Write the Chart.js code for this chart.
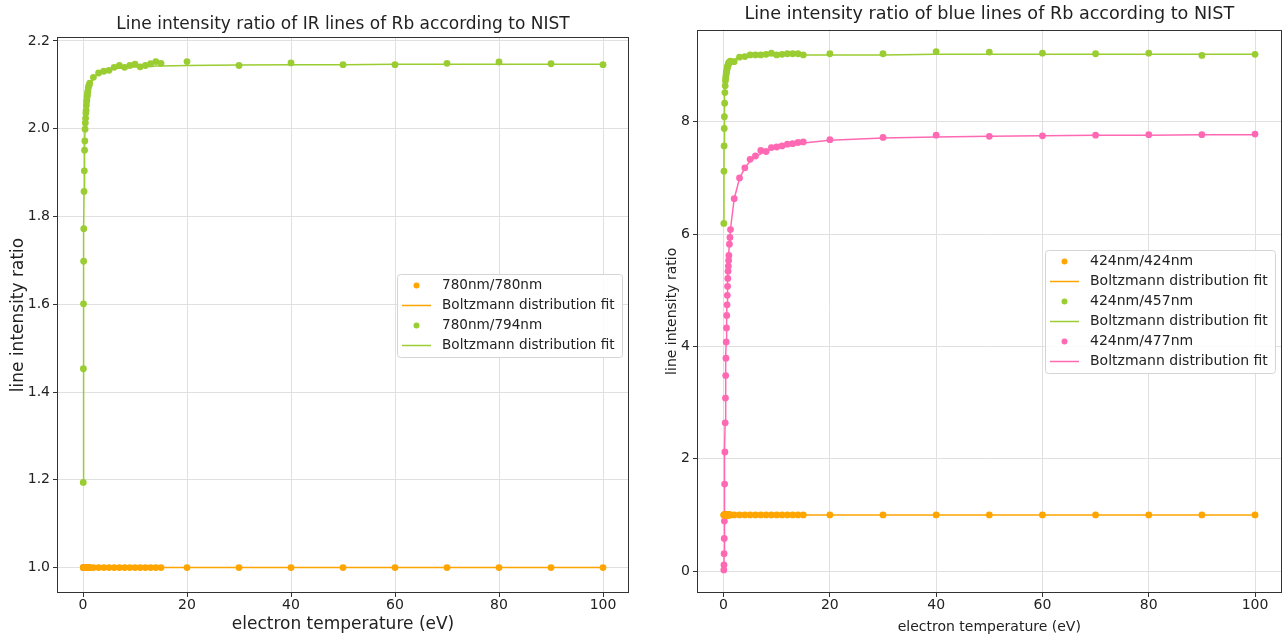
<!DOCTYPE html>
<html>
<head>
<meta charset="utf-8">
<title>Rb line intensity ratios</title>
<script src="https://cdn.jsdelivr.net/npm/chart.js@4.4.1/dist/chart.umd.min.js"></script>
<style>
  body { margin: 0; background: #fff; }
  .panel { position: absolute; top: 0; }
  #left { left: 0; }
  #right { left: 645px; }
</style>
</head>
<body>
<div class="panel" id="left"><canvas id="irChart" width="640" height="635"></canvas></div>
<div class="panel" id="right"><canvas id="blueChart" width="640" height="635"></canvas></div>
<script>
// electron temperatures (eV) shared by every series
const temperature = [
  0.05, 0.075, 0.1, 0.125, 0.15, 0.2, 0.25, 0.3, 0.35, 0.4, 0.45, 0.5, 0.55, 0.6, 0.65,
  0.7, 0.75, 0.8, 0.85, 0.9, 0.95, 1.0, 1.1, 1.2, 1.3,
  2, 3, 4, 5, 6, 7, 8, 9, 10, 11, 12, 13, 14, 15,
  20, 30, 40, 50, 60, 70, 80, 90, 100
];

const tempTicks = [0, 20, 40, 60, 80, 100];
const irTicks = [1.0, 1.2, 1.4, 1.6, 1.8, 2.0, 2.2];
const blueTicks = [0, 2, 4, 6, 8];

// IR lines: 780nm / 780nm (reference) and 780nm / 794nm
const ir780 = [
  1, 1, 1, 1, 1, 1, 1, 1, 1, 1, 1, 1, 1, 1, 1, 1, 1, 1, 1, 1, 1, 1, 1, 1, 1,
  1, 1, 1, 1, 1, 1, 1, 1, 1, 1, 1, 1, 1, 1,
  1, 1, 1, 1, 1, 1, 1, 1, 1
];
const ir780Fit = [
  1, 1, 1, 1, 1, 1, 1, 1, 1, 1, 1, 1, 1, 1, 1, 1, 1, 1, 1, 1, 1, 1, 1, 1, 1,
  1, 1, 1, 1, 1, 1, 1, 1, 1, 1, 1, 1, 1, 1,
  1, 1, 1, 1, 1, 1, 1, 1, 1
];
const ir794 = [
  1.194, 1.453, 1.601, 1.698, 1.772, 1.857, 1.904, 1.951, 1.972, 1.999, 2.013, 2.024, 2.036,
  2.042, 2.053, 2.062, 2.066, 2.074, 2.077, 2.083, 2.086, 2.093, 2.097, 2.100, 2.104,
  2.117, 2.127, 2.131, 2.133, 2.140, 2.144, 2.140, 2.144, 2.147, 2.141, 2.144, 2.148, 2.153, 2.149,
  2.153, 2.144, 2.150, 2.146, 2.146, 2.149, 2.152, 2.148, 2.146
];
const ir794Fit = [
  1.194, 1.452, 1.602, 1.699, 1.767, 1.854, 1.910, 1.947, 1.975, 1.995, 2.012, 2.025, 2.036,
  2.045, 2.053, 2.059, 2.065, 2.070, 2.074, 2.078, 2.082, 2.085, 2.090, 2.095, 2.099,
  2.116, 2.126, 2.131, 2.134, 2.137, 2.138, 2.139, 2.140, 2.141, 2.141, 2.142, 2.142, 2.143, 2.143,
  2.144, 2.145, 2.146, 2.146, 2.147, 2.147, 2.147, 2.147, 2.147
];

// blue lines: 424nm / 424nm, 424nm / 457nm, 424nm / 477nm
const blue424 = ir780;
const blue424Fit = ir780Fit;
const blue457 = [
  6.19, 7.12, 7.57, 7.88, 8.09, 8.33, 8.52, 8.64, 8.73, 8.78, 8.82, 8.86, 8.88,
  8.91, 8.94, 8.96, 8.98, 9.00, 9.01, 9.02, 9.04, 9.05, 9.06, 9.07, 9.08,
  9.07, 9.15, 9.16, 9.19, 9.19, 9.19, 9.20, 9.22, 9.19, 9.20, 9.21, 9.21, 9.21, 9.19,
  9.21, 9.21, 9.25, 9.24, 9.22, 9.21, 9.22, 9.18, 9.20
];
const blue457Fit = [
  6.19, 7.07, 7.55, 7.85, 8.06, 8.33, 8.50, 8.61, 8.69, 8.76, 8.80, 8.84, 8.87,
  8.90, 8.92, 8.94, 8.96, 8.98, 8.99, 9.00, 9.01, 9.02, 9.04, 9.05, 9.06,
  9.11, 9.14, 9.15, 9.16, 9.17, 9.17, 9.18, 9.18, 9.18, 9.18, 9.19, 9.19, 9.19, 9.19,
  9.19, 9.19, 9.20, 9.20, 9.20, 9.20, 9.20, 9.20, 9.20
];
const blue477 = [
  0.02, 0.11, 0.31, 0.58, 0.89, 1.55, 2.12, 2.64, 3.08, 3.48, 3.79, 4.08, 4.33,
  4.55, 4.74, 4.91, 5.07, 5.21, 5.34, 5.43, 5.53, 5.62, 5.82, 5.94, 6.08,
  6.63, 7.00, 7.18, 7.33, 7.39, 7.49, 7.47, 7.54, 7.55, 7.57, 7.60, 7.61, 7.63, 7.64,
  7.68, 7.72, 7.76, 7.74, 7.75, 7.76, 7.77, 7.77, 7.78
];
const blue477Fit = [
  0.013, 0.11, 0.32, 0.60, 0.92, 1.57, 2.16, 2.67, 3.10, 3.50, 3.82, 4.10, 4.35,
  4.56, 4.75, 4.92, 5.07, 5.21, 5.34, 5.45, 5.55, 5.65, 5.82, 5.96, 6.09,
  6.63, 6.99, 7.18, 7.30, 7.38, 7.43, 7.48, 7.51, 7.53, 7.56, 7.58, 7.59, 7.60, 7.62,
  7.67, 7.71, 7.73, 7.74, 7.75, 7.76, 7.76, 7.77, 7.77
];

const ORANGE = "#ffa500";
const GREEN = "#9acd32";
const PINK = "#ff69b4";
const TEXT = "#222";
const GRID = "#e0e0e0";

Chart.defaults.font.family = "'DejaVu Sans', sans-serif";
Chart.defaults.color = TEXT;

function seriesPoints(values) {
  return temperature.map((t, i) => ({ x: t, y: values[i] }));
}

function dotSet(label, values, color) {
  return {
    label, kind: "dot", data: seriesPoints(values), showLine: false,
    pointRadius: 3.4, pointHoverRadius: 3.4, pointBorderWidth: 0,
    pointBackgroundColor: color, backgroundColor: color, borderColor: color
  };
}

function fitSet(label, values, color) {
  return {
    label, kind: "line", data: seriesPoints(values), showLine: true,
    pointRadius: 0, pointHoverRadius: 0, borderWidth: 1.5,
    borderColor: color, backgroundColor: color
  };
}

// box around the plot plus a matplotlib-like legend at centre right
const frameLegend = {
  id: "frameLegend",
  afterDraw(chart, args, opts) {
    const { ctx, chartArea: a } = chart;
    ctx.save();
    ctx.strokeStyle = "#333";
    ctx.lineWidth = 1;
    const l = Math.round(a.left), t = Math.round(a.top);
    const r = Math.round(a.right), b = Math.round(a.bottom);
    ctx.strokeRect(l + 0.5, t + 0.5, r - l - 1, b - t - 1);

    const sets = chart.data.datasets;
    ctx.font = (opts.fontSize || 13.5) + "px 'DejaVu Sans'";
    const textW = Math.max(...sets.map((d) => ctx.measureText(d.label).width));
    const rowH = 20;
    const boxW = Math.round(5 + 29 + 11 + textW + 7);
    const boxH = sets.length * rowH + 3;
    const bx = Math.round(a.right - 7 - boxW);
    const by = Math.round((a.top + a.bottom) / 2 - boxH / 2);
    ctx.fillStyle = "rgba(255,255,255,0.85)";
    ctx.strokeStyle = "#d4d4d4";
    ctx.beginPath();
    ctx.roundRect(bx + 0.5, by + 0.5, boxW, boxH, 3);
    ctx.fill();
    ctx.stroke();

    sets.forEach((d, i) => {
      const cy = by + 11.5 + i * rowH;
      const hx = bx + 5;
      if (d.kind === "dot") {
        ctx.fillStyle = d.backgroundColor;
        ctx.beginPath();
        ctx.arc(hx + 14.5, cy, 3, 0, Math.PI * 2);
        ctx.fill();
      } else {
        ctx.strokeStyle = d.borderColor;
        ctx.lineWidth = 1.5;
        ctx.beginPath();
        ctx.moveTo(hx, cy);
        ctx.lineTo(hx + 29, cy);
        ctx.stroke();
      }
      ctx.fillStyle = TEXT;
      ctx.textBaseline = "middle";
      ctx.textAlign = "left";
      ctx.fillText(d.label, hx + 40, cy);
    });
    ctx.restore();
  }
};

function buildOptions(o) {
  return {
    responsive: false,
    animation: false,
    events: [],
    layout: { padding: { left: 0, right: o.padRight, top: 0, bottom: 0 } },
    plugins: {
      legend: { display: false },
      tooltip: { enabled: false },
      frameLegend: { fontSize: o.legendFont },
      title: {
        display: true, text: o.title, fullSize: false, color: TEXT,
        font: { size: o.titleFont, weight: "normal" }, padding: o.titlePad
      }
    },
    scales: {
      x: {
        type: "linear", min: -5, max: 105,
        afterBuildTicks: (s) => { s.ticks = tempTicks.map((v) => ({ value: v })); },
        afterFit: (s) => { s.height = 42; s.paddingLeft = 0; s.paddingRight = 0; },
        ticks: { font: { size: 14 }, color: TEXT, padding: 0, maxRotation: 0, autoSkip: false },
        grid: { color: GRID, lineWidth: 1, tickLength: 4, tickColor: "#333" },
        border: { display: false },
        title: {
          display: true, text: "electron temperature (eV)", color: TEXT,
          font: { size: o.axisFont }, padding: { top: 0, bottom: o.xTitlePad }
        }
      },
      y: {
        type: "linear", min: o.yMin, max: o.yMax,
        afterBuildTicks: (s) => { s.ticks = o.yTicks.map((v) => ({ value: v })); },
        afterFit: (s) => { s.width = o.yWidth; s.paddingTop = 0; s.paddingBottom = 0; },
        ticks: { font: { size: 14 }, color: TEXT, padding: 3, autoSkip: false, callback: o.yFormat },
        grid: { color: GRID, lineWidth: 1, tickLength: 4, tickColor: "#333" },
        border: { display: false },
        title: {
          display: true, text: "line intensity ratio", color: TEXT,
          font: { size: o.axisFont }, padding: { top: o.yTitlePad, bottom: 0 }
        }
      }
    }
  };
}

new Chart(document.getElementById("irChart"), {
  type: "scatter",
  data: {
    datasets: [
      dotSet("780nm/780nm", ir780, ORANGE),
      fitSet("Boltzmann distribution fit", ir780Fit, ORANGE),
      dotSet("780nm/794nm", ir794, GREEN),
      fitSet("Boltzmann distribution fit", ir794Fit, GREEN)
    ]
  },
  options: buildOptions({
    title: "Line intensity ratio of IR lines of Rb according to NIST",
    titleFont: 17, titlePad: { top: 14.5, bottom: 2.1 }, legendFont: 13.6,
    padRight: 11, yWidth: 57, yMin: 0.942, yMax: 2.209, yTicks: irTicks,
    yFormat: (v) => v.toFixed(1), axisFont: 17, xTitlePad: 0, yTitlePad: 8
  }),
  plugins: [frameLegend]
});

new Chart(document.getElementById("blueChart"), {
  type: "scatter",
  data: {
    datasets: [
      dotSet("424nm/424nm", blue424, ORANGE),
      fitSet("Boltzmann distribution fit", blue424Fit, ORANGE),
      dotSet("424nm/457nm", blue457, GREEN),
      fitSet("Boltzmann distribution fit", blue457Fit, GREEN),
      dotSet("424nm/477nm", blue477, PINK),
      fitSet("Boltzmann distribution fit", blue477Fit, PINK)
    ]
  },
  options: buildOptions({
    title: "Line intensity ratio of blue lines of Rb according to NIST",
    titleFont: 17.6, titlePad: { top: 4, bottom: 4.5 }, legendFont: 14,
    padRight: 1.3, yWidth: 52, yMin: -0.39, yMax: 9.64, yTicks: blueTicks,
    yFormat: (v) => String(v), axisFont: 14, xTitlePad: -0.5, yTitlePad: 19
  }),
  plugins: [frameLegend]
});
</script>
</body>
</html>
